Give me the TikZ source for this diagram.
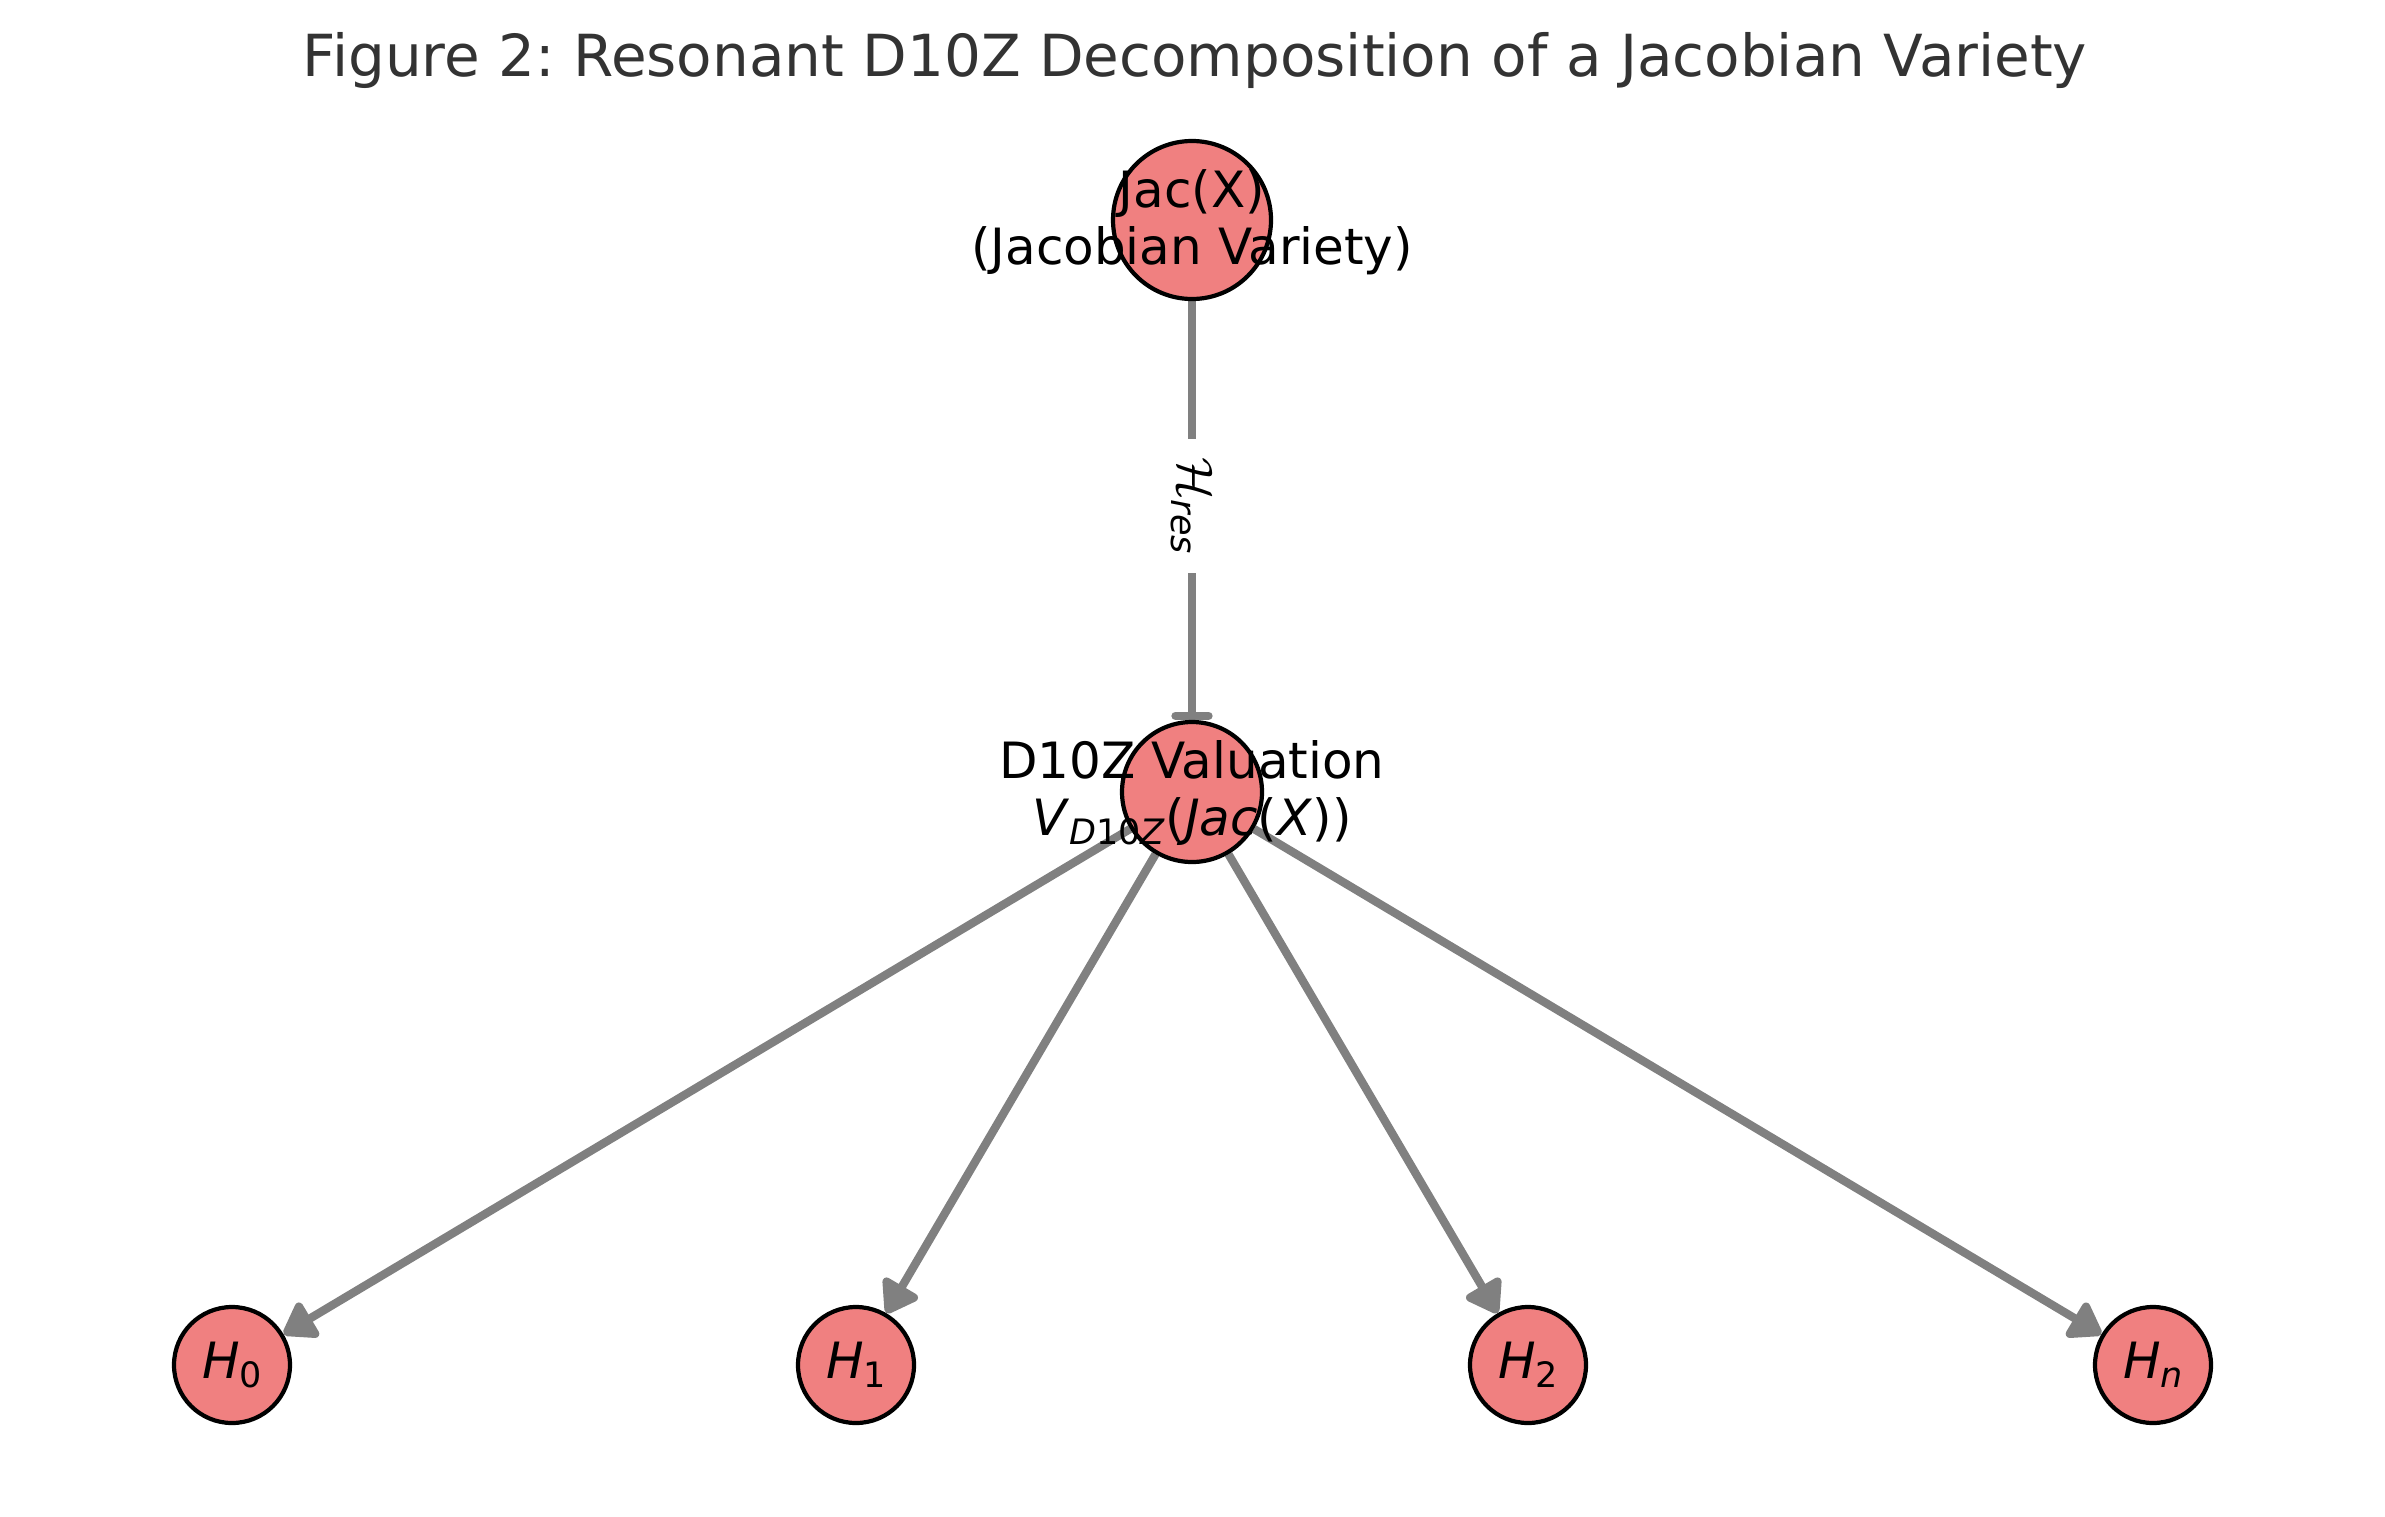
\RequirePackage{fix-cm}
\documentclass[tikz,border=0pt]{standalone}
\usepackage{amsmath}
\usepackage{fontspec}
\setmainfont{DejaVu Sans}
\usetikzlibrary{arrows.meta}
\pgfdeclarelayer{bg}
\pgfsetlayers{bg,main}
\definecolor{nodefill}{HTML}{F08080}
\definecolor{edgegray}{HTML}{808080}
\definecolor{titlegray}{HTML}{333333}
\newcommand\lowsub[1]{\raisebox{-9pt}{\fontsize{35}{35}\selectfont #1}}
\frenchspacing
\begin{document}
\begin{tikzpicture}[x=1pt,y=-1pt,
  vnode/.style={circle,draw=black,line width=4.2pt,fill=nodefill,inner sep=0pt},
  lbl/.style={font=\fontsize{50}{56.5}\selectfont,align=center,text=black,inner sep=0pt},
  edgearrow/.style={draw=edgegray,line width=8.3pt,-{Triangle[length=35pt,width=45pt,round]}},
  edgebar/.style={draw=edgegray,line width=8.3pt,-{Bar[width=33pt,line width=8.3pt,round]}},
  elabel/.style={fill=white,inner xsep=19pt,inner ysep=6pt,rotate=-90,font=\fontsize{50}{56}\selectfont}
]
\useasboundingbox (0,0) rectangle (2385,1516);
\node[font=\fontsize{58}{66}\selectfont,text=titlegray,anchor=base] (title) at (1195,76)
  {Figure 2: Resonant D10Z Decomposition of a Jacobian Variety};

\node[vnode,minimum size=158pt] (jac) at (1192,220) {};
\node[vnode,minimum size=140pt] (d) at (1192,792) {};
\node[vnode,minimum size=116pt] (h0) at (232,1365) {};
\node[vnode,minimum size=116pt] (h1) at (856,1365) {};
\node[vnode,minimum size=116pt] (h2) at (1528,1365) {};
\node[vnode,minimum size=116pt] (hn) at (2153,1365) {};

\begin{pgfonlayer}{bg}
\draw[edgebar] (jac) -- (d);
\draw[edgearrow] (d) -- (h0);
\draw[edgearrow] (d) -- (h1);
\draw[edgearrow] (d) -- (h2);
\draw[edgearrow] (d) -- (hn);
\end{pgfonlayer}

\node[elabel] (hres) at (1192,506) {$\mathcal{H}_{\textit{res}}$};

\node[lbl] (jact) at (1192,222) {Jac(X)\\(Jacobian Variety)};
\node[lbl] (dt) at (1192,793) {D10Z Valuation\\\textit{V}\lowsub{\textit{D}10\textit{Z}}(\textit{Jac}(\textit{X}))};
\node[lbl] (h0t) at (h0) {\textit{H}\lowsub{0}};
\node[lbl] (h1t) at (h1) {\textit{H}\lowsub{1}};
\node[lbl] (h2t) at (h2) {\textit{H}\lowsub{2}};
\node[lbl] (hnt) at (hn) {\textit{H}\lowsub{\textit{n}}};
\end{tikzpicture}
\end{document}
